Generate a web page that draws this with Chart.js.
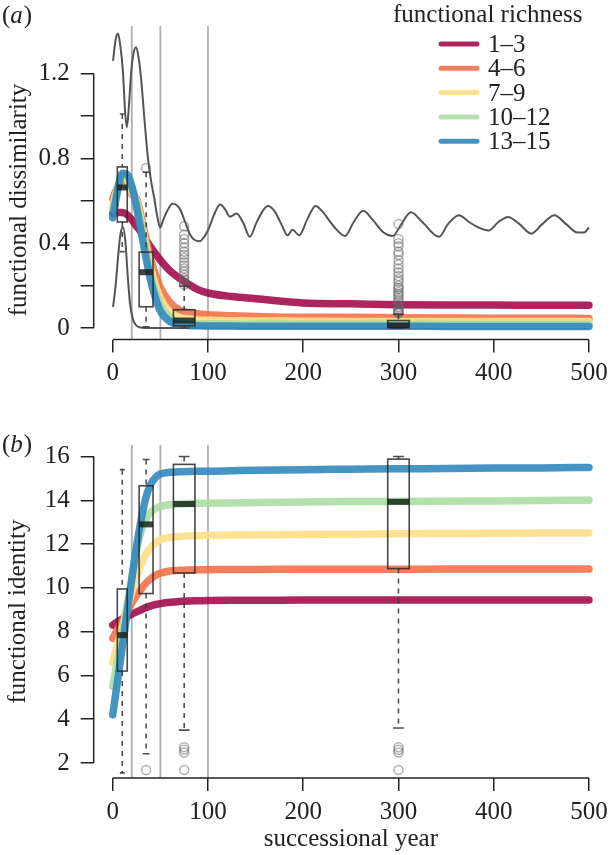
<!DOCTYPE html>
<html><head><meta charset="utf-8">
<script src="https://cdn.jsdelivr.net/npm/chart.js@4.4.0/dist/chart.umd.min.js"></script>
<style>
html,body{margin:0;padding:0;background:#fff;}
#wrap{position:relative;width:614px;height:855px;overflow:hidden;}
canvas{position:absolute;left:0;display:block;}
</style></head><body>
<div id="wrap">
<canvas id="ca" width="614" height="395" style="top:0;width:614px;height:395px"></canvas>
<canvas id="cb" width="614" height="460" style="top:395px;width:614px;height:460px"></canvas>
</div>
<script>
// ---------------- DATA ----------------
const groups = ['1–3', '4–6', '7–9', '10–12', '13–15'];
const years = [0,5,10,15,20,25,30,35,40,45,50,60,70,80,90,100,125,150,200,250,300,350,400,450,500];

// panel (a): functional dissimilarity
const dissim_1_3   = [0.54,0.545,0.545,0.535,0.51,0.48,0.45,0.415,0.38,0.35,0.32,0.27,0.235,0.205,0.18,0.165,0.148,0.138,0.118,0.114,0.110,0.108,0.108,0.107,0.107];
const dissim_4_6   = [0.61,0.665,0.70,0.685,0.63,0.61,0.52,0.42,0.32,0.25,0.19,0.12,0.085,0.072,0.066,0.062,0.058,0.054,0.050,0.050,0.048,0.047,0.046,0.046,0.045];
const dissim_7_9   = [0.58,0.66,0.715,0.70,0.64,0.60,0.50,0.39,0.28,0.20,0.14,0.075,0.05,0.042,0.038,0.036,0.034,0.033,0.032,0.031,0.031,0.030,0.030,0.030,0.030];
const dissim_10_12 = [0.56,0.66,0.72,0.71,0.66,0.59,0.48,0.36,0.25,0.17,0.11,0.05,0.03,0.024,0.021,0.020,0.019,0.019,0.018,0.018,0.018,0.017,0.017,0.017,0.017];
const dissim_13_15 = [0.52,0.645,0.73,0.725,0.67,0.57,0.45,0.33,0.22,0.14,0.08,0.03,0.017,0.012,0.010,0.009,0.009,0.008,0.008,0.008,0.008,0.007,0.007,0.007,0.007];

// grey distribution outline in panel (a)
const outlineTopX = [0.3,3,5.5,8,10.7,13,14.9,17,19.4,22,24.5,27,29.7,33,36.6,40,43.6,47,49.8,53,57.4,62.6,67,71.3,76,81.6,86,91.3,96,100.6,106,112.7,118,123,130,137,143.9,150.8,157.7,162.9,170,177,183.6,188.8,195.7,204,213,220,232,244,253,263,273,284,294,303,313,325,342.6,352,363.4,374,384,394.5,405,415,427,439.5,451,463.7,476,487.9,494.8,500];
const outlineTopY = [1.26,1.36,1.39,1.33,1.21,1.02,0.947,1.05,1.21,1.30,1.325,1.28,1.18,1.00,0.816,0.70,0.612,0.52,0.474,0.51,0.554,0.586,0.58,0.554,0.50,0.437,0.415,0.409,0.43,0.467,0.53,0.583,0.56,0.525,0.54,0.496,0.43,0.496,0.554,0.576,0.55,0.49,0.437,0.464,0.437,0.51,0.576,0.55,0.48,0.434,0.50,0.553,0.51,0.452,0.434,0.49,0.546,0.50,0.43,0.49,0.532,0.50,0.474,0.46,0.50,0.524,0.49,0.445,0.49,0.532,0.49,0.45,0.45,0.474];
const outlineBotX = [0.3,3,5.5,8,10.7,13,15.9,18,21,24,28,35,100,300,500];
const outlineBotY = [0.10,0.20,0.33,0.44,0.475,0.42,0.235,0.12,0.045,0.015,0.003,0,0,0,0];

// panel (b): functional identity
const ident_1_3   = [8.3,8.45,8.57,8.68,8.8,8.9,9.0,9.1,9.18,9.24,9.28,9.34,9.38,9.4,9.41,9.42,9.43,9.43,9.44,9.44,9.45,9.45,9.45,9.45,9.45];
const ident_4_6   = [7.7,8.1,8.5,8.9,9.3,9.65,9.95,10.22,10.42,10.57,10.67,10.77,10.8,10.82,10.83,10.83,10.84,10.84,10.85,10.85,10.85,10.86,10.86,10.86,10.86];
const ident_7_9   = [6.6,7.4,8.2,9.0,9.8,10.5,11.1,11.55,11.85,12.05,12.2,12.3,12.35,12.37,12.38,12.4,12.41,12.42,12.44,12.45,12.47,12.48,12.49,12.5,12.5];
const ident_10_12 = [5.5,6.7,7.9,9.2,10.5,11.7,12.6,13.15,13.45,13.62,13.72,13.8,13.83,13.85,13.86,13.87,13.88,13.9,13.92,13.94,13.95,13.96,13.97,13.99,14.0];
const ident_13_15 = [4.2,5.75,7.3,8.85,10.4,11.9,13.15,14.15,14.75,15.05,15.2,15.28,15.3,15.32,15.33,15.33,15.35,15.37,15.4,15.42,15.44,15.45,15.47,15.48,15.5];

// boxplots (at interval midpoints)
const boxYears = [10, 35, 75, 300];
const dissimLo  = [0.36, 0.005, 0.0, 0.0];
const dissimQ1  = [0.50, 0.10, 0.01, 0.002];
const dissimMed = [0.663, 0.263, 0.035, 0.012];
const dissimQ3  = [0.76, 0.358, 0.086, 0.035];
const dissimHi  = [1.01, 0.735, 0.198, 0.065];
const dissimOutX = [35, 75,75,75,75,75,75,75,75,75,75,75,75,75,75,75,75,75,
  300,300,300,300,300,300,300,300,300,300,300,300,300,300,300,300,300,300,300,300,300,300,300,300,300,300,300,300,300];
const dissimOutY = [0.755, 0.48,0.44,0.42,0.40,0.38,0.36,0.345,0.33,0.31,0.295,0.28,0.265,0.25,0.235,0.225,0.215,0.205,
  0.49,0.42,0.40,0.385,0.36,0.345,0.32,0.30,0.28,0.262,0.245,0.23,0.218,0.20,0.19,0.183,0.17,0.16,0.153,0.14,0.131,0.12,0.109,0.10,0.095,0.087,0.08,0.074,0.07];

const identLo  = [1.55, 2.42, 3.5, 3.6];
const identQ1  = [6.2, 9.74, 10.68, 10.88];
const identMed = [7.84, 12.9, 13.83, 13.93];
const identQ3  = [9.95, 14.66, 15.64, 15.88];
const identHi  = [15.4, 15.86, 16.0, 16.0];
const identOutX = [35, 75,75,75,75, 300,300,300,300];
const identOutY = [1.68, 2.72,2.6,2.48,1.68, 2.72,2.6,2.48,1.68];

const breakYears = [20, 50, 100];
const xTicks = [0,100,200,300,400,500];
const xTickLabels = ['0','100','200','300','400','500'];
const yTicksA = [0,0.2,0.4,0.6,0.8,1.0,1.2];
const yTickLabelsA = ['0','','0.4','','0.8','','1.2'];
const yTicksB = [2,4,6,8,10,12,14,16];
const yTickLabelsB = ['2','4','6','8','10','12','14','16'];

// ---------------- STYLE ----------------
const FONT = "'Liberation Serif','Times New Roman',serif";
const FS = 25;
Chart.defaults.font.family = FONT;
Chart.defaults.font.size = FS;
Chart.defaults.color = '#222';
const colors = ['rgba(158,1,66,0.86)','rgba(244,109,67,0.88)','rgba(254,224,139,0.92)','rgba(171,221,164,0.9)','rgba(50,136,189,0.9)'];
const boxHalfWidth = [5.2, 7.3, 11.3, 11.3];

function groupLine(i, ys) {
  return {type:'line', label: groups[i], data: years.map((x,k)=>({x, y: ys[k]})),
    borderColor: colors[i], borderWidth: 7.5, pointRadius: 0, cubicInterpolationMode:'monotone',
    borderCapStyle:'round', borderJoinStyle:'round', fill:false, order: 5 - i, isGroup: true};
}
function greyLine(label, xs, ys) {
  return {type:'line', label, data: xs.map((x,k)=>({x, y: ys[k]})), borderColor:'#555', borderWidth:2,
    pointRadius:0, cubicInterpolationMode:'monotone', fill:false, order: 8, clip: false};
}
function outlierDS(xs, ys) {
  return {type:'line', label:'outliers', data: xs.map((x,k)=>({x, y: ys[k]})), showLine:false,
    pointRadius:4.5, pointBackgroundColor:'rgba(0,0,0,0)', pointBorderColor:'rgba(100,100,100,0.5)',
    pointBorderWidth:1.5, order:0};
}

const rstyle = {
  id: 'rstyle',
  beforeDatasetsDraw(chart, args, o) {
    const {ctx, chartArea:ca, scales:{x}} = chart;
    ctx.save();
    ctx.strokeStyle = 'rgba(165,165,165,0.9)'; ctx.lineWidth = 1.8;
    breakYears.forEach(v => { const px = x.getPixelForValue(v); ctx.beginPath(); ctx.moveTo(px, ca.top); ctx.lineTo(px, ca.bottom); ctx.stroke(); });
    ctx.restore();
  },
  afterDatasetsDraw(chart, args, o) {
    const {ctx, scales:{x,y}} = chart; const b = o.box;
    ctx.save();
    boxYears.forEach((xv, i) => {
      const hw = boxHalfWidth[i];
      const xl = x.getPixelForValue(xv-hw), xr = x.getPixelForValue(xv+hw), xc = x.getPixelForValue(xv);
      const cl = x.getPixelForValue(xv-hw/2), cr = x.getPixelForValue(xv+hw/2);
      const yLo = y.getPixelForValue(b.lo[i]), yQ1 = y.getPixelForValue(b.q1[i]), yMed = y.getPixelForValue(b.med[i]),
            yQ3 = y.getPixelForValue(b.q3[i]), yHi = y.getPixelForValue(b.hi[i]);
      ctx.strokeStyle = 'rgba(60,60,60,0.9)'; ctx.lineWidth = 1.6;
      ctx.setLineDash([5,5]);
      ctx.beginPath(); ctx.moveTo(xc, yHi); ctx.lineTo(xc, yQ3); ctx.moveTo(xc, yQ1); ctx.lineTo(xc, yLo); ctx.stroke();
      ctx.setLineDash([]);
      ctx.beginPath(); ctx.moveTo(cl, yHi); ctx.lineTo(cr, yHi); ctx.moveTo(cl, yLo); ctx.lineTo(cr, yLo); ctx.stroke();
      ctx.strokeStyle = 'rgba(40,40,40,0.85)';
      ctx.strokeRect(xl, yQ3, xr-xl, yQ1-yQ3);
      ctx.fillStyle = 'rgba(25,35,30,0.85)';
      ctx.fillRect(xl, yMed-3, xr-xl, 6);
    });
    ctx.restore();
  },
  afterDraw(chart, args, o) {
    const {ctx, chartArea:ca, scales:{x,y}} = chart;
    ctx.save();
    ctx.strokeStyle = '#222'; ctx.lineWidth = 1.5;
    ctx.beginPath();
    ctx.moveTo(x.getPixelForValue(xTicks[0]), ca.bottom); ctx.lineTo(x.getPixelForValue(xTicks[xTicks.length-1]), ca.bottom);
    ctx.moveTo(ca.left, y.getPixelForValue(o.yFirst)); ctx.lineTo(ca.left, y.getPixelForValue(o.yLast));
    ctx.stroke();
    ctx.fillStyle = '#222';
    // y title drawn here when it is not centred on the plotting region
    if (o.yTitle) {
      ctx.save();
      ctx.translate(o.yTitle.x, o.yTitle.y); ctx.rotate(-Math.PI/2);
      ctx.font = FS + 'px ' + FONT; ctx.textAlign = 'center'; ctx.textBaseline = 'middle';
      ctx.fillText(o.yTitle.text, 0, 0);
      ctx.restore();
    }
    // panel letter
    ctx.textBaseline = 'alphabetic'; ctx.textAlign = 'left';
    let px = o.letterX;
    ctx.font = FS + 'px ' + FONT; ctx.fillText('(', px, o.letterY); px += ctx.measureText('(').width;
    ctx.font = 'italic ' + FS + 'px ' + FONT; ctx.fillText(o.letter, px, o.letterY); px += ctx.measureText(o.letter).width + 1;
    ctx.font = FS + 'px ' + FONT; ctx.fillText(')', px, o.letterY);
    // legend
    if (o.legend) {
      const L = o.legend;
      ctx.font = FS + 'px ' + FONT;
      ctx.fillText(L.title, L.titleX, L.titleY);
      const ds = chart.data.datasets.filter(d => d.isGroup);
      groups.forEach((g, i) => {
        const d = ds.find(q => q.label === g);
        const yy = L.rowY + i * L.rowGap;
        ctx.strokeStyle = d.borderColor; ctx.lineWidth = 5; ctx.lineCap = 'round';
        ctx.beginPath(); ctx.moveTo(L.lineX0, yy - 8); ctx.lineTo(L.lineX1, yy - 8); ctx.stroke();
        ctx.fillStyle = '#222'; ctx.fillText(g, L.textX, yy);
      });
    }
    ctx.restore();
  }
};

function scalesFor(ymin, ymax, yt, ytl, xh, ytitle, xtitle) {
  return {
    x: {type:'linear', min:-20, max:520,
      afterBuildTicks: s => { s.ticks = xTicks.map(v => ({value:v})); },
      afterFit: s => { s.height = xh; },
      grid: {drawOnChartArea:false, drawTicks:true, tickLength:13, color:'#222', tickColor:'#222', lineWidth:1.5, tickWidth:1.5},
      border: {display:false},
      ticks: {padding:6, maxRotation:0, autoSkip:false, color:'#222', callback: (v,i) => xTickLabels[i]},
      title: xtitle ? {display:true, text:xtitle, color:'#222', font:{size:FS, lineHeight:1.0}, padding:{top:0,bottom:3}} : {display:false}
    },
    y: {type:'linear', min:ymin, max:ymax,
      afterBuildTicks: s => { s.ticks = yt.map(v => ({value:v})); },
      afterFit: s => { s.width = 93.7; },
      grid: {drawOnChartArea:false, drawTicks:true, tickLength:13, color:'#222', tickColor:'#222', lineWidth:1.5, tickWidth:1.5},
      border: {display:false},
      ticks: {padding:11, autoSkip:false, color:'#222', callback: (v,i) => ytl[i]},
      title: ytitle ? {display:true, text:ytitle, color:'#222', font:{size:FS, lineHeight:1.0}, padding:{top:6,bottom:0}} : {display:false}
    }
  };
}

new Chart(document.getElementById('ca'), {
  type:'line',
  data: {datasets: [
    outlierDS(dissimOutX, dissimOutY),
    groupLine(0, dissim_1_3), groupLine(1, dissim_4_6), groupLine(2, dissim_7_9), groupLine(3, dissim_10_12), groupLine(4, dissim_13_15),
    greyLine('outline upper', outlineTopX, outlineTopY), greyLine('outline lower', outlineBotX, outlineBotY)
  ]},
  options: {
    responsive:false, animation:false, devicePixelRatio:1, events:[],
    layout:{padding:{top:0,left:0,right:0,bottom:0}},
    plugins:{legend:{display:false}, tooltip:{enabled:false},
      rstyle:{yFirst:0, yLast:1.2, letter:'a', letterX:2, letterY:23,
        yTitle:{text:'functional dissimilarity', x:19, y:200},
        box:{lo:dissimLo,q1:dissimQ1,med:dissimMed,q3:dissimQ3,hi:dissimHi},
        legend:{title:'functional richness', titleX:393, titleY:22, rowY:52, rowGap:24.3, lineX0:441, lineX1:477, textX:488}}},
    scales: scalesFor(-0.055, 1.425, yTicksA, yTickLabelsA, 395-339.6, null, null)
  },
  plugins:[rstyle]
});

new Chart(document.getElementById('cb'), {
  type:'line',
  data: {datasets: [
    outlierDS(identOutX, identOutY),
    groupLine(0, ident_1_3), groupLine(1, ident_4_6), groupLine(2, ident_7_9), groupLine(3, ident_10_12), groupLine(4, ident_13_15)
  ]},
  options: {
    responsive:false, animation:false, devicePixelRatio:1, events:[],
    layout:{padding:{top:50,left:0,right:0,bottom:0}},
    plugins:{legend:{display:false}, tooltip:{enabled:false},
      rstyle:{yFirst:2, yLast:16, letter:'b', letterX:2, letterY:57,
        box:{lo:identLo,q1:identQ1,med:identMed,q3:identQ3,hi:identHi}}},
    scales: scalesFor(1.315, 16.525, yTicksB, yTickLabelsB, 460-383, 'functional identity', 'successional year')
  },
  plugins:[rstyle]
});
</script>
</body></html>
